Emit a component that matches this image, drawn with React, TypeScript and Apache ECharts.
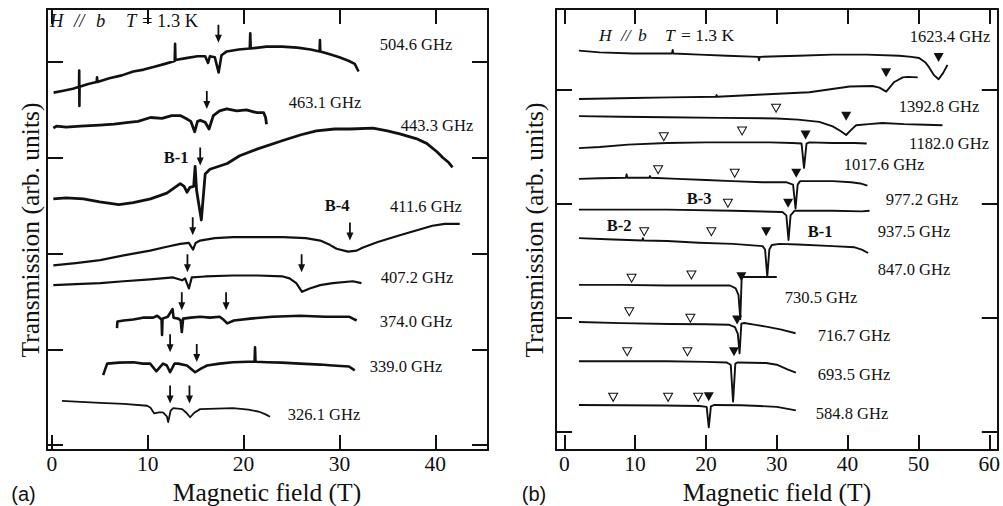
import React, { useEffect, useRef } from "react";
import * as echarts from "echarts";

type P = [number, number];

// ---------- Panel (a): field (T) vs transmission (arb. units, offset) ----------
const a504_6: P[] = [[0.19,3.68],[1.2,3.70],[2.2,3.72],[2.84,3.74],[2.86,3.91],[2.88,3.54],[2.9,3.74],[3.8,3.77],[4.68,3.79],[4.72,3.84],[4.76,3.79],[6.0,3.83],[7.3,3.86],[8.5,3.90],[9.6,3.92],[10.7,3.95],[11.8,3.98],[12.82,4.01],[12.86,4.19],[12.9,4.02],[14.0,4.04],[15.2,4.06],[16.0,4.06],[16.3,3.99],[16.5,4.06],[17.0,4.05],[17.4,3.89],[17.7,4.07],[18.25,4.11],[19.5,4.13],[20.65,4.14],[20.7,4.30],[20.75,4.14],[22.4,4.16],[24.0,4.16],[25.6,4.15],[27.0,4.13],[27.93,4.11],[27.97,4.23],[28.01,4.11],[29.0,4.08],[30.0,4.05],[31.0,4.01],[31.6,3.98],[32.0,3.90]];
const a463_1: P[] = [[0.16,3.31],[0.5,3.33],[1.5,3.32],[3.0,3.33],[5.0,3.34],[6.5,3.35],[8.0,3.37],[9.0,3.38],[10.3,3.42],[11.5,3.41],[12.5,3.44],[13.4,3.44],[14.0,3.41],[14.5,3.38],[14.9,3.27],[15.2,3.38],[15.5,3.39],[16.0,3.37],[16.4,3.30],[16.85,3.44],[17.5,3.49],[18.25,3.51],[19.3,3.49],[20.3,3.50],[21.4,3.47],[22.1,3.47],[22.3,3.42],[22.4,3.35]];
const a443_3: P[] = [[0.16,2.57],[1.5,2.58],[3.3,2.57],[5.0,2.54],[7.0,2.51],[8.5,2.53],[10.3,2.57],[12.0,2.63],[13.4,2.73],[13.8,2.70],[14.1,2.64],[14.4,2.69],[14.8,2.70],[14.95,2.91],[15.1,2.66],[15.6,2.35],[16.0,2.83],[16.5,2.88],[18.3,2.94],[19.6,3.02],[21.4,3.09],[24.1,3.18],[26.0,3.24],[27.6,3.28],[29.5,3.30],[31.1,3.30],[33.5,3.31],[35.0,3.28],[36.3,3.25],[38.0,3.20],[39.1,3.15],[40.2,3.06],[40.8,3.00],[41.4,2.95],[41.8,2.90]];
const a411_6: P[] = [[0.16,1.875],[2.5,1.90],[5.05,1.93],[7.5,1.98],[10.26,2.03],[12.0,2.07],[13.4,2.10],[14.3,2.11],[14.74,2.04],[15.0,2.11],[15.47,2.135],[17.0,2.16],[18.9,2.17],[21.5,2.17],[24.1,2.17],[26.5,2.16],[28.0,2.135],[29.0,2.09],[29.7,2.05],[30.9,2.02],[31.8,2.03],[32.4,2.06],[34.0,2.12],[36.3,2.19],[38.0,2.24],[39.7,2.29],[41.0,2.31],[42.55,2.31]];
const a407_2: P[] = [[0.16,1.67],[2.5,1.68],[5.05,1.69],[7.5,1.71],[10.26,1.73],[12.66,1.75],[13.6,1.72],[13.9,1.74],[14.3,1.635],[14.6,1.75],[16.0,1.76],[18.9,1.77],[21.5,1.77],[24.1,1.76],[24.8,1.74],[25.5,1.69],[26.1,1.60],[26.9,1.635],[28.0,1.67],[29.3,1.69],[31.4,1.71],[32.3,1.69]];
const a374_0: P[] = [[6.8,1.22],[6.85,1.29],[7.5,1.30],[8.5,1.31],[9.5,1.33],[10.57,1.33],[11.0,1.35],[11.45,1.31],[11.5,1.15],[11.55,1.32],[12.1,1.34],[12.6,1.42],[12.7,1.33],[13.2,1.32],[13.45,1.30],[13.56,1.18],[13.7,1.32],[14.5,1.33],[15.5,1.34],[16.5,1.33],[17.5,1.34],[17.9,1.31],[18.3,1.27],[19.0,1.30],[20.7,1.32],[23.0,1.34],[25.9,1.35],[28.5,1.34],[31.0,1.34],[31.4,1.32],[31.8,1.30]];
const a339_0: P[] = [[5.36,0.73],[5.6,0.80],[5.78,0.85],[7.0,0.86],[8.49,0.865],[9.5,0.85],[10.26,0.85],[10.9,0.77],[11.6,0.85],[12.0,0.83],[12.34,0.76],[12.8,0.85],[13.18,0.85],[14.1,0.83],[14.95,0.76],[15.6,0.80],[16.2,0.83],[17.5,0.85],[18.9,0.865],[20.5,0.87],[21.15,0.87],[21.2,1.02],[21.25,0.87],[22.45,0.865],[24.0,0.86],[25.9,0.85],[28.0,0.84],[29.3,0.83],[31.0,0.82],[31.6,0.78]];
const a326_1: P[] = [[1.06,0.46],[3.0,0.45],[5.05,0.44],[7.5,0.43],[9.95,0.41],[10.3,0.39],[10.68,0.33],[11.2,0.34],[11.6,0.34],[12.0,0.30],[12.14,0.24],[12.4,0.36],[12.66,0.385],[13.6,0.375],[14.0,0.34],[14.43,0.29],[14.9,0.34],[15.47,0.375],[18.9,0.385],[20.5,0.37],[21.7,0.345],[22.3,0.32],[22.76,0.295]];
// resonance arrows (tip positions)
const aArrows: P[] = [[17.38,4.20],[16.17,3.51],[15.48,2.92],[14.7,2.19],[31.1,2.135],[14.15,1.805],[26.06,1.805],[13.56,1.406],[18.18,1.406],[12.34,0.97],[15.12,0.868],[12.34,0.434],[14.36,0.434]];

// ---------- Panel (b) ----------
const b1623_4: P[] = [[2.07,3.345],[5.0,3.33],[9.7,3.32],[15.2,3.32],[15.3,3.35],[15.4,3.32],[19.1,3.31],[23.0,3.30],[27.4,3.29],[27.5,3.26],[27.6,3.29],[33.0,3.30],[37.9,3.31],[42.7,3.31],[47.3,3.30],[49.0,3.29],[50.1,3.28],[51.0,3.24],[51.5,3.20],[52.2,3.13],[52.85,3.094],[53.5,3.15],[54.1,3.22]];
const b1392_8: P[] = [[2.07,2.92],[6.0,2.925],[9.7,2.93],[15.0,2.935],[21.4,2.94],[21.5,2.955],[21.6,2.94],[28.0,2.96],[34.6,2.98],[40.3,3.03],[43.5,3.035],[44.5,3.02],[45.45,2.985],[46.6,3.07],[47.8,3.11],[48.5,3.115],[49.9,3.11]];
const b1182_0: P[] = [[2.07,2.77],[8.0,2.765],[14.5,2.76],[22.0,2.755],[30.0,2.75],[33.0,2.74],[36.0,2.72],[37.9,2.68],[39.0,2.64],[39.8,2.605],[40.5,2.65],[41.2,2.69],[43.0,2.70],[44.9,2.71],[48.0,2.70],[51.0,2.695],[53.4,2.69]];
const b1017_6: P[] = [[2.07,2.49],[5.0,2.50],[9.0,2.52],[14.5,2.535],[20.0,2.54],[24.8,2.54],[29.0,2.54],[32.2,2.535],[33.5,2.53],[33.85,2.316],[34.2,2.53],[34.6,2.54],[37.9,2.535],[41.0,2.535],[42.7,2.53]];
const b977_2: P[] = [[2.07,2.22],[5.0,2.225],[8.7,2.23],[8.8,2.26],[8.9,2.23],[12.0,2.23],[12.1,2.245],[12.2,2.23],[16.0,2.22],[20.0,2.21],[23.75,2.20],[28.0,2.19],[31.4,2.19],[32.3,2.17],[32.65,1.96],[32.95,2.17],[33.3,2.20],[37.9,2.20],[40.5,2.19],[41.8,2.18],[42.8,2.16]];
const b937_5: P[] = [[2.07,1.95],[8.0,1.95],[14.5,1.95],[23.8,1.94],[30.8,1.93],[31.35,1.90],[31.66,1.684],[31.95,1.90],[32.5,1.94],[37.9,1.94],[42.0,1.935],[43.1,1.94]];
const b847_0: P[] = [[2.07,1.70],[6.0,1.69],[11.0,1.68],[11.1,1.70],[11.2,1.68],[14.5,1.675],[19.0,1.66],[23.8,1.65],[28.0,1.63],[28.35,1.60],[28.66,1.362],[28.95,1.60],[29.3,1.64],[30.4,1.65],[33.0,1.645],[37.9,1.63],[41.0,1.62],[42.0,1.60],[42.9,1.57]];
const b730_5: P[] = [[2.07,1.29],[8.0,1.29],[14.5,1.285],[20.0,1.285],[23.4,1.285],[24.2,1.26],[24.6,1.20],[24.85,0.99],[25.05,1.36],[27.5,1.36],[30.0,1.36]];
const b716_7: P[] = [[2.07,0.965],[8.0,0.955],[14.9,0.947],[20.0,0.945],[23.3,0.94],[24.1,0.92],[24.5,0.86],[24.75,0.69],[25.0,0.95],[25.4,0.956],[27.0,0.94],[28.5,0.924],[30.5,0.90],[32.66,0.866]];
const b693_5: P[] = [[2.07,0.62],[8.0,0.62],[14.5,0.62],[20.0,0.615],[22.9,0.61],[23.5,0.59],[23.83,0.266],[24.15,0.60],[24.5,0.61],[28.5,0.605],[30.0,0.59],[31.5,0.55],[32.7,0.52]];
const b584_8: P[] = [[2.07,0.237],[8.0,0.235],[14.0,0.232],[19.1,0.228],[20.1,0.22],[20.4,0.041],[20.7,0.225],[21.2,0.237],[25.0,0.235],[27.6,0.228],[30.0,0.22],[32.7,0.19]];
// filled (▼) and open (▽) resonance markers
const bFilled: P[] = [[52.85,3.285],[45.44,3.15],[39.8,2.77],[34.07,2.605],[32.75,2.27],[31.6,2.006],[28.5,1.757],[25.0,1.362],[24.4,0.982],[23.96,0.704],[20.4,0.31]];
const bOpen: P[] = [[29.9,2.84],[14.05,2.59],[25.1,2.64],[13.25,2.30],[24.06,2.27],[23.1,2.006],[11.28,1.757],[20.77,1.757],[9.5,1.348],[17.95,1.377],[9.17,1.055],[17.8,0.997],[8.88,0.704],[17.39,0.704],[6.9,0.304],[14.66,0.304],[18.9,0.304]];

const xTicksA = [0, 10, 20, 30, 40];
const yTicksA = [0, 1, 2, 3, 4];
const xTicksB = [0, 10, 20, 30, 40, 50, 60];
const yTicksB = [0, 1, 2, 3];

const freqLabelsA = ["504.6 GHz", "463.1 GHz", "443.3 GHz", "411.6 GHz", "407.2 GHz", "374.0 GHz", "339.0 GHz", "326.1 GHz"];
const freqLabelsB = ["1623.4 GHz", "1392.8 GHz", "1182.0 GHz", "1017.6 GHz", "977.2 GHz", "937.5 GHz", "847.0 GHz", "730.5 GHz", "716.7 GHz", "693.5 GHz", "584.8 GHz"];

const INK = "#111111";
const serif = '"Liberation Serif", "Times New Roman", Times, serif';
const sans = '"Liberation Sans", Arial, Helvetica, sans-serif';

const tracesA: { d: P[]; w: number }[] = [
  { d: a504_6, w: 2.6 }, { d: a463_1, w: 2.8 }, { d: a443_3, w: 2.8 }, { d: a411_6, w: 2.2 },
  { d: a407_2, w: 2.2 }, { d: a374_0, w: 2.6 }, { d: a339_0, w: 2.6 }, { d: a326_1, w: 1.8 },
];
const tracesB: P[][] = [b1623_4, b1392_8, b1182_0, b1017_6, b977_2, b937_5, b847_0, b730_5, b716_7, b693_5, b584_8];

// label layout (pixel centres)
const posA: P[] = [[416, 44], [325, 102], [437, 125], [426, 206], [417, 277], [416, 321], [406, 366], [324, 414]];
const posB: P[] = [[950, 36], [939, 106], [949, 143], [884, 164], [922, 199], [914, 231], [914, 269], [821, 297], [854, 335], [854, 374], [852, 413]];

function txt(x: number, y: number, text: string, size: number, extra: any = {}) {
  return {
    type: "text",
    x,
    y,
    z: 100,
    style: {
      text,
      fontSize: size,
      fontFamily: serif,
      fill: INK,
      textAlign: "center",
      textVerticalAlign: "middle",
      align: "center",
      verticalAlign: "middle",
      ...extra,
    },
  };
}

// "H // b   T = 1.3 K" built from pieces placed like the original typesetting
function condition(x0: number, y: number, off: number[], size: number) {
  const it = { fontStyle: "italic" };
  const left = { textAlign: "left", align: "left" };
  return [
    txt(x0, y, "H", size, { ...left, ...it }),
    txt(x0 + off[0], y, "//", size, { ...left, ...it }),
    txt(x0 + off[1], y, "b", size, { ...left, ...it }),
    txt(x0 + off[2], y, "T", size, { ...left, ...it }),
    txt(x0 + off[3], y, "= 1.3 K", size, { ...left }),
  ];
}

function xAxes(grid: number, min: number, max: number, ticks: number[]) {
  const common = {
    gridIndex: grid,
    type: "value",
    min,
    max,
    splitLine: { show: false },
    axisLine: { show: true, onZero: false, lineStyle: { color: INK, width: 2 } },
    axisTick: { show: true, inside: true, length: 15, customValues: ticks, lineStyle: { color: INK, width: 2 } },
  };
  return [
    { ...common, position: "bottom", axisLabel: { show: true, customValues: ticks, fontSize: 21.5, fontFamily: serif, color: INK, margin: 3 } },
    { ...common, position: "top", axisLabel: { show: false } },
  ];
}
function yAxes(grid: number, min: number, max: number, ticks: number[]) {
  const common = {
    gridIndex: grid,
    type: "value",
    min,
    max,
    splitLine: { show: false },
    axisLabel: { show: false },
    axisLine: { show: true, onZero: false, lineStyle: { color: INK, width: 2 } },
    axisTick: { show: true, inside: true, length: 16, customValues: ticks, lineStyle: { color: INK, width: 2 } },
  };
  return [
    { ...common, position: "left" },
    { ...common, position: "right" },
  ];
}

const arrowPath = "path://M-0.9,0 L0.9,0 L0.9,10 L3.5,10 L0,18 L-3.5,10 L-0.9,10 Z";
const triPath = "path://M0,0 L10,0 L5,9 Z";

const option: any = {
  animation: false,
  backgroundColor: "#ffffff",
  grid: [
    { left: 47, top: 9, width: 441, height: 441 },
    { left: 556, top: 9, width: 442.5, height: 441 },
  ],
  xAxis: [...xAxes(0, -0.5, 45.5, xTicksA), ...xAxes(1, -1.17, 61.2, xTicksB)],
  yAxis: [...yAxes(0, -0.052, 4.553, yTicksA), ...yAxes(1, -0.158, 3.71, yTicksB)],
  series: [
    ...tracesA.map((t) => ({
      type: "line",
      xAxisIndex: 0,
      yAxisIndex: 0,
      data: t.d,
      showSymbol: false,
      symbol: "none",
      lineStyle: { color: INK, width: t.w, join: "round" },
      silent: true,
    })),
    {
      type: "scatter",
      xAxisIndex: 0,
      yAxisIndex: 0,
      data: aArrows,
      symbol: arrowPath,
      symbolSize: [7, 18],
      symbolOffset: [0, -9],
      itemStyle: { color: INK, opacity: 1 },
      z: 5,
    },
    ...tracesB.map((d) => ({
      type: "line",
      xAxisIndex: 2,
      yAxisIndex: 2,
      data: d,
      showSymbol: false,
      symbol: "none",
      lineStyle: { color: INK, width: 1.9, join: "round" },
      silent: true,
    })),
    {
      type: "scatter",
      xAxisIndex: 2,
      yAxisIndex: 2,
      data: bFilled,
      symbol: triPath,
      symbolSize: [10, 9],
      itemStyle: { color: INK, opacity: 1 },
      z: 5,
    },
    {
      type: "scatter",
      xAxisIndex: 2,
      yAxisIndex: 2,
      data: bOpen,
      symbol: triPath,
      symbolSize: [9, 8],
      itemStyle: { color: "#ffffff", borderColor: INK, borderWidth: 1, opacity: 1 },
      z: 5,
    },
  ],
  graphic: [
    ...freqLabelsA.map((s, i) => txt(posA[i][0], posA[i][1], s, 16.5)),
    ...freqLabelsB.map((s, i) => txt(posB[i][0], posB[i][1], s, 16.5)),
    txt(176, 157, "B-1", 16.5, { fontWeight: "bold" }),
    txt(337, 205, "B-4", 16.5, { fontWeight: "bold" }),
    txt(699, 198, "B-3", 16.5, { fontWeight: "bold" }),
    txt(619, 225, "B-2", 16.5, { fontWeight: "bold" }),
    txt(820, 231, "B-1", 16.5, { fontWeight: "bold" }),
    ...condition(50, 21, [24, 46, 76, 92], 18.5),
    ...condition(599, 35, [22, 39, 66, 82], 17.5),
    txt(267, 492, "Magnetic field (T)", 25.5),
    txt(777, 492, "Magnetic field (T)", 25.5),
    { ...txt(30, 230, "Transmission (arb. units)", 25.5), rotation: Math.PI / 2 },
    { ...txt(534, 230, "Transmission (arb. units)", 25.5), rotation: Math.PI / 2 },
    txt(23.5, 494, "(a)", 20, { fontFamily: sans }),
    txt(534, 494, "(b)", 20, { fontFamily: sans }),
  ],
};

export default function App() {
  const ref = useRef<HTMLDivElement>(null);
  useEffect(() => {
    document.body.style.margin = "0";
    const chart = echarts.init(ref.current!, undefined, { renderer: "svg" });
    chart.setOption(option);
    return () => chart.dispose();
  }, []);
  return <div ref={ref} style={{ width: 1003, height: 506 }} />;
}
